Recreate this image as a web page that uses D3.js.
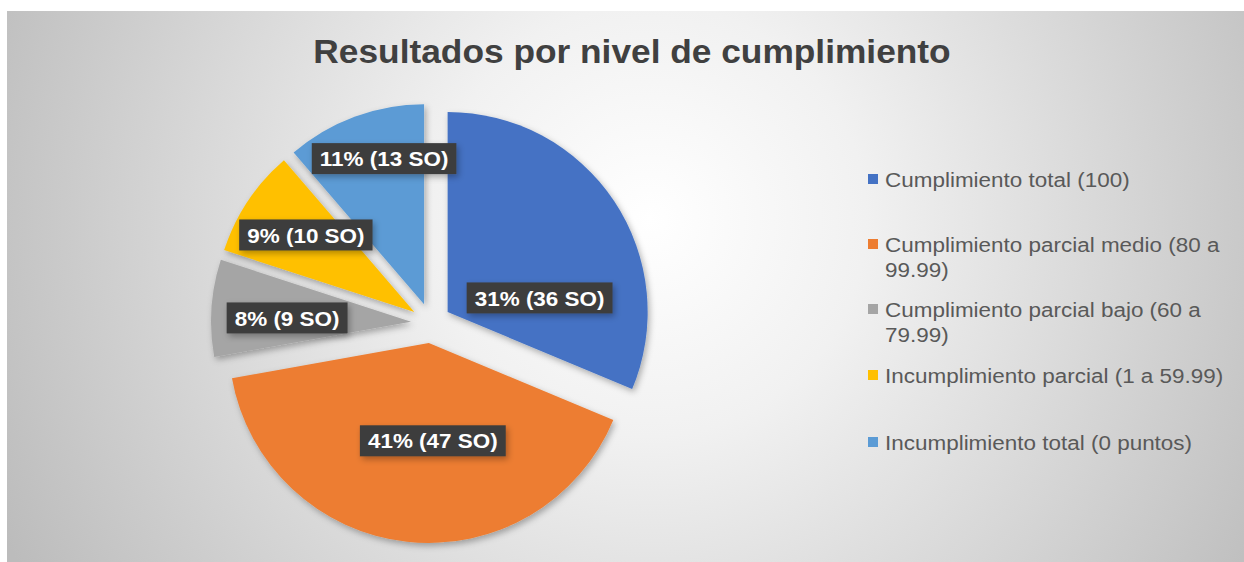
<!DOCTYPE html>
<html>
  <head>
    <meta charset="utf-8">
    <title>Resultados por nivel de cumplimiento</title>
    <script src="https://d3js.org/d3.v7.min.js"></script>
    <style>
      body { margin: 0; background: #fff; }
      text { font-family: "Liberation Sans", Arial, sans-serif; }
      .title { font-size: 33px; font-weight: bold; fill: #404040; text-anchor: middle; }
      .label text { font-size: 21px; font-weight: bold; fill: #fff; text-anchor: middle; }
      .legend text { font-size: 21px; fill: #595959; }
    </style>
  </head>
  <body>
    <svg width="1244" height="562"></svg>
    <script>
      const categories = [
        "Cumplimiento total (100)",
        "Cumplimiento parcial medio (80 a 99.99)",
        "Cumplimiento parcial bajo (60 a 79.99)",
        "Incumplimiento parcial (1 a 59.99)",
        "Incumplimiento total (0 puntos)"
      ];
      const counts = [36, 47, 9, 10, 13];
      const percents = [31, 41, 8, 9, 11];
      const colors = ["#4472C4", "#ED7D31", "#A5A5A5", "#FFC000", "#5B9BD5"];

      // layout
      const center = {x: 431, y: 323};
      const radius = 200;
      const explode = 20;
      const stretch = 1.07; // the source image is a bit wider than tall
      // label nudges: [angle offset from bisector (deg), distance from slice tip]
      const labelNudge = [[25, 93], [-8.6, 98], [-2.2, 124], [1.7, 133], [5, 151]];
      const legendBaseline = [187, 252, 317, 383, 450];

      const svg = d3.select("svg");
      const width = +svg.attr("width");
      const height = +svg.attr("height");

      const defs = svg.append("defs");
      const grad = defs.append("radialGradient")
          .attr("id", "bg")
          .attr("gradientUnits", "userSpaceOnUse")
          .attr("cx", 650).attr("cy", 220).attr("r", 720);
      grad.append("stop").attr("offset", 0).attr("stop-color", "#ffffff");
      grad.append("stop").attr("offset", 0.3).attr("stop-color", "#f1f1f1");
      grad.append("stop").attr("offset", 1).attr("stop-color", "#bcbcbc");

      const shadow = defs.append("filter").attr("id", "shadow")
          .attr("x", "-20%").attr("y", "-20%").attr("width", "140%").attr("height", "150%");
      shadow.append("feDropShadow")
          .attr("dx", 2).attr("dy", 3).attr("stdDeviation", 3)
          .attr("flood-color", "#000").attr("flood-opacity", 0.3);

      svg.append("rect")
          .attr("x", 7).attr("y", 11)
          .attr("width", width - 7).attr("height", height - 11)
          .attr("fill", "url(#bg)");

      svg.append("text")
          .attr("class", "title")
          .attr("transform", `translate(632, 63) scale(${stretch}, 1)`)
          .text("Resultados por nivel de cumplimiento");

      const pie = d3.pie().sort(null).value(d => d);
      const arc = d3.arc().innerRadius(0).outerRadius(radius);
      const arcs = pie(counts);
      const mid = d => (d.startAngle + d.endAngle) / 2;

      const g = svg.append("g")
          .attr("transform", `translate(${center.x}, ${center.y})`);

      g.selectAll("path.slice").data(arcs)
        .enter().append("path")
          .attr("class", "slice")
          .attr("d", arc)
          .attr("fill", (d, i) => colors[i])
          .attr("filter", "url(#shadow)")
          .attr("transform", d => `translate(${Math.sin(mid(d)) * explode}, ${-Math.cos(mid(d)) * explode})`);

      const labels = g.selectAll("g.label").data(arcs)
        .enter().append("g")
          .attr("class", "label")
          .attr("transform", (d, i) => {
            const a = mid(d) + labelNudge[i][0] * Math.PI / 180;
            const r = labelNudge[i][1];
            const x = Math.sin(mid(d)) * explode + Math.sin(a) * r;
            const y = -Math.cos(mid(d)) * explode - Math.cos(a) * r;
            return `translate(${x}, ${y}) scale(${stretch}, 1)`;
          });

      labels.append("rect").attr("fill", "#3d3d3d").attr("filter", "url(#shadow)");
      labels.append("text")
          .attr("dy", "0.36em")
          .text((d, i) => `${percents[i]}% (${counts[i]} SO)`);
      labels.each(function() {
        const t = d3.select(this).select("text").node().getBBox();
        d3.select(this).select("rect")
          .attr("x", t.x - 7.5).attr("y", -15.5)
          .attr("width", t.width + 15).attr("height", 31);
      });

      // legend
      const legend = svg.append("g").attr("class", "legend");
      const maxW = 330;
      categories.forEach((c, i) => {
        const item = legend.append("g");
        item.append("rect")
            .attr("x", 868).attr("y", legendBaseline[i] - 13)
            .attr("width", 10).attr("height", 10)
            .attr("fill", colors[i]);
        const text = item.append("text")
            .attr("transform", `translate(885, ${legendBaseline[i]}) scale(${stretch}, 1)`);
        const words = c.split(" ");
        let line = [];
        let tspan = text.append("tspan").attr("x", 0);
        words.forEach(w => {
          line.push(w);
          tspan.text(line.join(" "));
          if (tspan.node().getComputedTextLength() > maxW && line.length > 1) {
            line.pop();
            tspan.text(line.join(" "));
            line = [w];
            tspan = text.append("tspan").attr("x", 0).attr("dy", 25).text(w);
          }
        });
      });
    </script>
  </body>
</html>
